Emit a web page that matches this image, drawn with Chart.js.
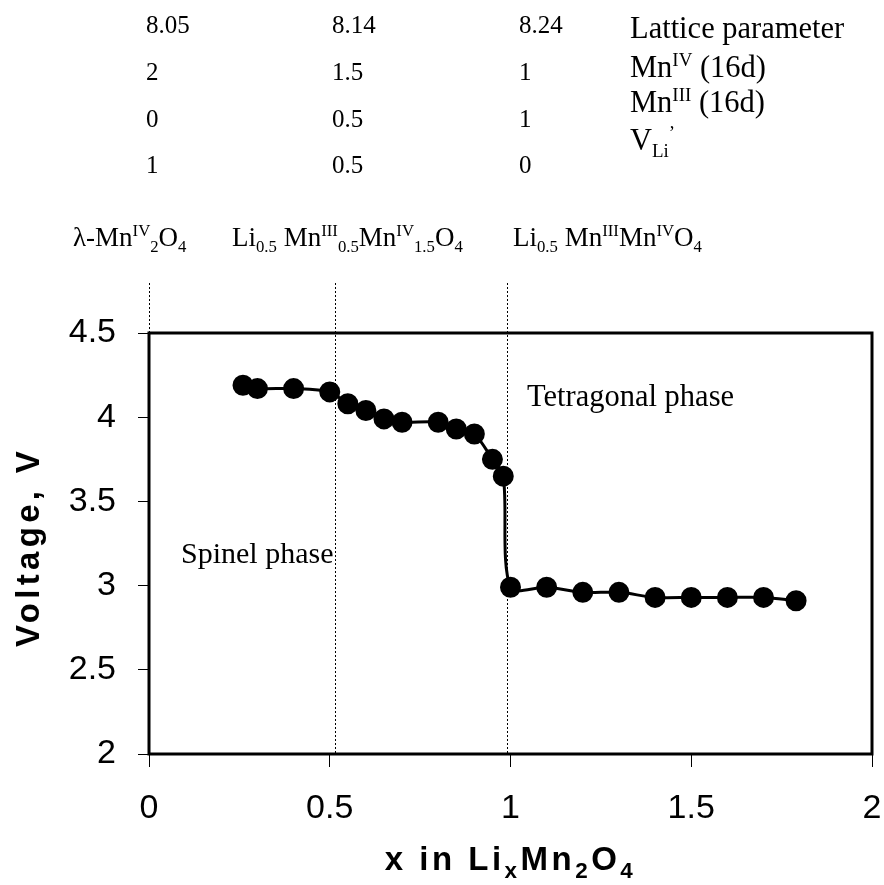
<!DOCTYPE html>
<html><head><meta charset="utf-8">
<script src="https://cdn.jsdelivr.net/npm/chart.js@4"></script>
<style>html,body{margin:0;padding:0;background:#fff}#wrap{position:relative;width:884px;height:885px}</style>
</head><body><div id="wrap"><canvas id="c" width="884" height="885"></canvas></div>
<script>
// ---- data ----
const xValues = [0.26,0.30,0.40,0.50,0.55,0.60,0.65,0.70,0.80,0.85,0.90,0.95,0.98,1.00,1.10,1.20,1.30,1.40,1.50,1.60,1.70,1.79];
const voltage = [4.19,4.17,4.17,4.15,4.08,4.04,3.99,3.97,3.97,3.93,3.90,3.75,3.65,2.99,2.99,2.96,2.96,2.93,2.93,2.93,2.93,2.91];
const xTicks = [0,0.5,1,1.5,2];
const yTicks = [2,2.5,3,3.5,4,4.5];
const phaseBoundaries = [0,0.515,0.99];
const latticeParameter = ['8.05','8.14','8.24'];
const mnIVCount = ['2','1.5','1'];
const mnIIICount = ['0','0.5','1'];
const liVacancy = ['1','0.5','0'];
const rowLabels = [
  [['Lattice parameter']],
  [['Mn'],['IV','sup'],[' (16d)']],
  [['Mn'],['III','sup'],[' (16d)']],
  [['V'],['Li','sub'],['’','sup']]
];
const compositions = [
  [['λ-Mn'],['IV','sup'],['2','sub'],['O'],['4','sub']],
  [['Li'],['0.5','sub'],[' Mn'],['III','sup'],['0.5','sub'],['Mn'],['IV','sup'],['1.5','sub'],['O'],['4','sub']],
  [['Li'],['0.5','sub'],[' Mn'],['III','sup'],['Mn'],['IV','sup'],['O'],['4','sub']]
];
const phaseNames = ['Spinel phase','Tetragonal phase'];
const xTitle = [['x in Li'],['x','sub'],['Mn'],['2','sub'],['O'],['4','sub']];
const yTitle = [['Voltage, V']];

const SERIF = '"Liberation Serif", "Times New Roman", serif';
const SANS = '"Liberation Sans", Arial, sans-serif';

function drawRich(ctx, runs, x, y, size, opts = {}) {
  const fam = opts.family || SERIF;
  const weight = opts.weight || 'normal';
  const ratio = opts.ratio || 0.62;
  ctx.save();
  ctx.letterSpacing = (opts.spacing || 0) + 'px';
  ctx.textBaseline = 'alphabetic';
  ctx.textAlign = 'left';
  ctx.fillStyle = '#000';
  let total = 0;
  const items = runs.map(([t, m]) => {
    const s = m ? size * ratio : size;
    const dy = m === 'sup' ? -size * 0.36 : (m === 'sub' ? size * 0.24 : 0);
    ctx.font = `${weight} ${s}px ${fam}`;
    const w = ctx.measureText(t).width;
    total += w;
    return { t, s, dy, w };
  });
  let cx = opts.align === 'center' ? x - total / 2 : x;
  for (const it of items) {
    ctx.font = `${weight} ${it.s}px ${fam}`;
    ctx.fillText(it.t, cx, y + it.dy);
    cx += it.w;
  }
  ctx.restore();
}

const decor = {
  id: 'decor',
  beforeDatasetsDraw(chart) {
    const { ctx, chartArea: a, scales: { x } } = chart;
    ctx.save();
    ctx.strokeStyle = '#000';
    ctx.lineWidth = 1;
    ctx.setLineDash([2, 2]);
    phaseBoundaries.forEach(v => {
      const px = Math.round(x.getPixelForValue(v)) + 0.5;
      ctx.beginPath();
      ctx.moveTo(px, 283);
      ctx.lineTo(px, a.bottom);
      ctx.stroke();
    });
    ctx.restore();
    ctx.save();
    ctx.strokeStyle = '#000';
    ctx.lineWidth = 3;
    ctx.strokeRect(a.left, a.top, a.right - a.left, a.bottom - a.top);
    ctx.restore();
  },
  afterDraw(chart) {
    const { ctx, chartArea: a } = chart;
    // header table
    const colX = [146, 332, 519];
    const rowY = [33, 80, 127, 173];
    [latticeParameter, mnIVCount, mnIIICount, liVacancy].forEach((row, r) => {
      row.forEach((t, c) => drawRich(ctx, [[t]], colX[c], rowY[r], 25));
    });
    const labY = [38, 77, 112, 150];
    rowLabels.forEach((runs, i) => drawRich(ctx, runs, 630, labY[i], 30.5));
    // compositions
    const compX = [73, 232, 513];
    compositions.forEach((runs, i) => drawRich(ctx, runs, compX[i], 246, 27));
    // phase names
    drawRich(ctx, [[phaseNames[0]]], 181, 563, 30);
    drawRich(ctx, [[phaseNames[1]]], 527, 406, 30.5);
    // axis titles
    drawRich(ctx, xTitle, (a.left + a.right) / 2, 870, 33, { family: SANS, weight: 'bold', spacing: 3.5, ratio: 0.68, align: 'center' });
    ctx.save();
    ctx.translate(39, 547);
    ctx.rotate(-Math.PI / 2);
    drawRich(ctx, yTitle, 0, 0, 33, { family: SANS, weight: 'bold', spacing: 4.3, align: 'center' });
    ctx.restore();
  }
};

new Chart(document.getElementById('c'), {
  type: 'scatter',
  data: {
    datasets: [{
      data: xValues.map((v, i) => ({ x: v, y: voltage[i] })),
      showLine: true,
      tension: 0.3,
      borderColor: '#000',
      borderWidth: 3,
      backgroundColor: '#000',
      pointBackgroundColor: '#000',
      pointBorderColor: '#000',
      pointRadius: 9,
      clip: false
    }]
  },
  options: {
    responsive: false,
    animation: false,
    devicePixelRatio: 1,
    layout: { padding: { top: 333, right: 12, left: 0, bottom: 0 } },
    plugins: { legend: { display: false }, tooltip: { enabled: false } },
    scales: {
      x: {
        type: 'linear', min: 0, max: 2,
        afterBuildTicks: s => { s.ticks = xTicks.map(v => ({ value: v })); },
        afterFit: s => { s.height = 131; s.paddingLeft = 0; s.paddingRight = 0; },
        border: { display: false },
        grid: { drawOnChartArea: false, drawTicks: true, tickLength: 13, color: '#000', lineWidth: 1 },
        ticks: { color: '#000', font: { family: SANS, size: 34 }, padding: 21, maxRotation: 0, callback: v => String(v) }
      },
      y: {
        type: 'linear', min: 2, max: 4.5,
        afterBuildTicks: s => { s.ticks = yTicks.map(v => ({ value: v })); },
        afterFit: s => { s.width = 149; s.paddingTop = 0; s.paddingBottom = 0; },
        border: { display: false },
        grid: { drawOnChartArea: false, drawTicks: true, tickLength: 11, color: '#000', lineWidth: 1 },
        ticks: { color: '#000', font: { family: SANS, size: 34 }, padding: 22, callback: v => String(v) }
      }
    }
  },
  plugins: [decor]
});
</script></body></html>
